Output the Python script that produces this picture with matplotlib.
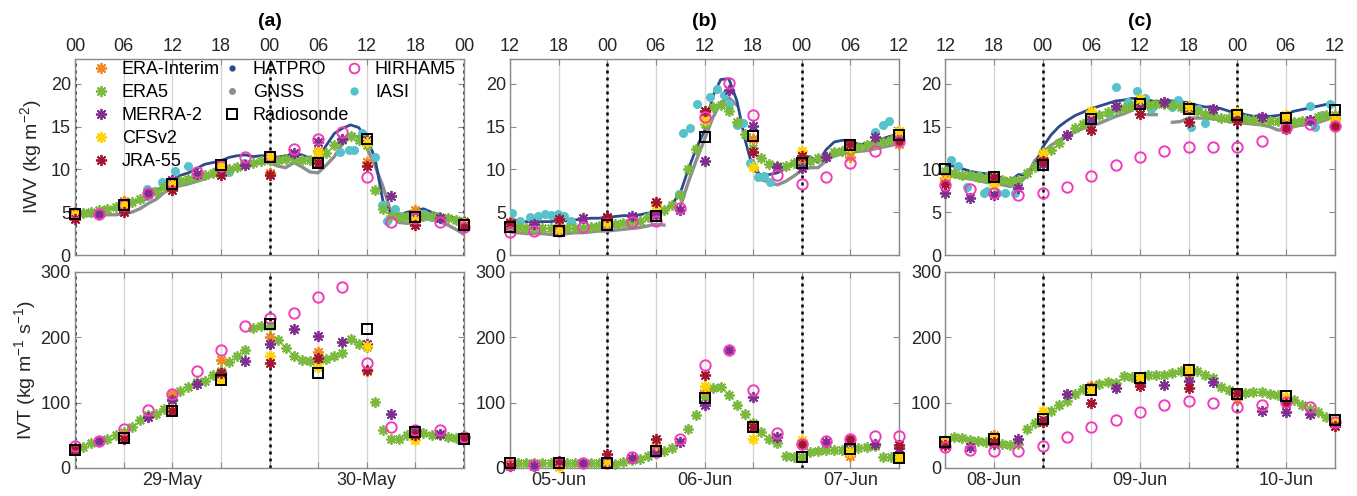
import numpy as np
import matplotlib
matplotlib.use("Agg")
import matplotlib.pyplot as plt
from matplotlib.lines import Line2D

plt.rcParams['font.family'] = ['Liberation Sans', 'DejaVu Sans']
plt.rcParams['mathtext.fontset'] = 'custom'
plt.rcParams['mathtext.rm'] = 'Liberation Sans'
plt.rcParams['mathtext.it'] = 'Liberation Sans:italic'
plt.rcParams['font.size'] = 11

# ---------------- time axes (hours from panel start) ----------------
hours_1h = list(range(0, 49))
hours_3h = list(range(0, 49, 3))
hours_6h = list(range(0, 49, 6))

top_labels_a = ['00', '06', '12', '18', '00', '06', '12', '18', '00']
top_labels_b = ['12', '18', '00', '06', '12', '18', '00', '06', '12']
top_labels_c = ['12', '18', '00', '06', '12', '18', '00', '06', '12']
date_ticks_a = [12, 36]
date_labels_a = ['29-May', '30-May']
date_ticks_b = [6, 24, 42]
date_labels_b = ['05-Jun', '06-Jun', '07-Jun']
date_ticks_c = [6, 24, 42]
date_labels_c = ['08-Jun', '09-Jun', '10-Jun']
midnight_a = [0, 24, 48]
midnight_b = [12, 36]
midnight_c = [12, 36]
panel_titles = ['(a)', '(b)', '(c)']

# ---------------- IWV (kg m-2) ----------------
# panel a
era5_iwv_a = [4.8, 4.9, 5.0, 5.2, 5.4, 5.6, 5.9, 6.2, 6.6, 7.0, 7.4, 7.9, 8.3, 8.6, 8.9, 9.1, 9.3,
              9.6, 9.9, 10.1, 10.3, 10.6, 10.8, 11.0, 11.1, 11.1, 11.2, 11.2, 11.1, 11.1, 11.3, 11.9,
              12.9, 13.4, 13.9, 13.4, 12.8, 7.6, 5.4, 4.6, 4.4, 4.4, 4.5, 4.5, 4.5, 4.4, 4.3, 4.1, 4.0]
erai_iwv_a = [5.0, 6.3, 8.6, 10.6, 9.6, 12.2, 10.9, 5.2, 3.9]
cfsv2_iwv_a = [4.8, 5.8, 8.3, 10.4, 11.5, 12.0, 13.2, 4.1, 3.7]
jra55_iwv_a = [4.2, 5.0, 7.6, 9.4, 9.4, 10.7, 10.4, 3.5, 3.3]
merra2_iwv_a = [4.9, 4.8, 5.9, 7.2, 8.8, 9.5, 10.5, 10.5, 11.4, 11.9, 13.2, 13.6, 13.4, 6.9, 4.6, 4.3, 3.8]
hirham_iwv_a = [4.9, 4.8, 5.9, 7.3, 8.4, 9.7, 10.4, 11.4, 11.6, 12.4, 13.5, 14.4, 9.1, 3.9, 4.3, 3.9, 3.3]
sonde_iwv_a = [4.8, 5.8, 8.3, 10.5, 11.5, 10.8, 13.6, 4.4, 3.5]
hatpro_iwv_a = [4.9, 5.0, 5.1, 5.2, 5.4, 5.6, 5.9, 6.3, 6.2, 6.6, 7.4, 8.2, 8.6, 9.3, 9.6, 10.1, 10.6,
                10.8, 11.0, 11.4, 11.6, 11.7, 11.5, 11.6, 11.6, 11.4, 11.6, 11.8, 11.7, 11.3, 11.2, 12.8,
                14.2, 14.8, 15.2, 14.9, 13.6, 11.4, 6.3, 4.9, 4.7, 5.0, 5.2, 5.4, 5.0, 4.7, 4.5, 4.3, 4.0]
gnss_iwv_a = [4.6, 4.6, 4.6, 4.6, 4.7, 4.7, 4.8, 5.0, 5.4, 6.0, 6.5, 7.3, 7.8, 8.1, 8.3, 8.6, 8.9,
              9.3, 9.7, 10.0, 10.1, 10.3, 10.6, 10.9, 10.8, 10.4, 10.2, 10.8, 10.3, 9.7, 9.6, 10.5,
              11.5, 13.0, 14.0, 13.8, 12.5, 10.5, 8.0, 5.0, 3.8, 3.7, 3.8, 4.2, 4.2, 3.9, 3.5, 3.0, 2.4]
iasi_h_a = [8.9, 9.7, 10.7, 12.3, 13.9, 15.5, 17.4, 19.0, 20.8, 32.7, 33.8, 34.4, 35.4, 37.0, 37.9,
            38.5, 39.5, 40.4, 41.4, 43.1, 43.9, 44.7]
iasi_iwv_a = [7.7, 7.5, 8.5, 9.8, 10.4, 9.4, 9.8, 9.7, 10.7, 12.0, 12.3, 12.3, 14.2, 11.4, 5.8,
              4.0, 5.4, 4.6, 4.6, 4.8, 4.4, 4.5]

# panel b
era5_iwv_b = [3.3, 3.3, 3.2, 3.2, 3.1, 3.1, 3.0, 3.1, 3.1, 3.2, 3.3, 3.4, 3.5, 3.6, 3.7, 3.8, 4.0,
              4.4, 4.7, 5.3, 5.8, 7.0, 10.0, 12.4, 15.3, 17.3, 17.5, 16.8, 15.5, 14.1, 12.5, 11.3,
              10.6, 10.4, 10.4, 10.7, 11.0, 11.0, 11.3, 11.5, 12.0, 12.2, 12.4, 12.6, 12.8, 13.0,
              13.2, 13.4, 13.6]
erai_iwv_b = [3.9, 3.5, 4.2, 5.8, 16.2, 13.5, 11.3, 11.5, 13.0]
cfsv2_iwv_b = [3.6, 3.0, 3.8, 5.8, 15.8, 10.3, 12.2, 12.6, 14.5]
jra55_iwv_b = [3.7, 4.2, 4.4, 6.2, 16.8, 12.0, 11.6, 13.0, 13.3]
merra2_iwv_b = [3.5, 3.6, 3.0, 4.3, 4.3, 4.5, 4.7, 5.2, 11.0, 19.3, 15.1, 10.3, 10.2, 11.5, 12.8, 13.8, 13.8]
hirham_iwv_b = [2.7, 2.8, 2.8, 3.3, 3.6, 3.8, 4.0, 5.5, 16.1, 20.1, 16.4, 9.3, 8.3, 9.1, 10.7, 12.1, 13.3]
sonde_iwv_b = [3.3, 2.8, 3.5, 4.6, 13.8, 13.9, 10.7, 12.9, 14.0]
hatpro_iwv_b = [4.2, 4.0, 3.9, 3.9, 3.9, 3.9, 4.0, 4.0, 4.1, 4.2, 4.3, 4.3, 4.4, 4.5, 4.6, 4.6, 4.7,
                4.9, 5.0, 5.2, 6.0, 7.2, 10.0, 12.5, 14.5, 18.5, 20.5, 20.6, 18.0, 13.5, 10.0, 9.3,
                9.4, 9.6, 10.1, 10.9, 11.3, 11.5, 10.8, 12.3, 13.2, 13.4, 13.4, 12.9, 13.0, 13.2,
                13.6, 13.9, 14.1]
gnss_iwv_b = [2.7, 2.6, 2.5, 2.5, 2.5, 2.4, 2.4, 2.5, 2.6, 2.6, 2.7, 2.8, 2.8, 2.9, 3.0, 3.1, 3.2,
              3.4, 3.6, 3.5, np.nan, 5.6, 8.5, 11.1, 13.5, 16.0, 17.8, 18.4, 17.5, np.nan, 11.0, 8.8,
              8.5, 8.2, 8.6, 9.2, 9.9, 10.2, 10.2, 11.0, 11.6, 11.8, 12.0, 12.1, 12.2, 12.4, 12.6,
              12.8, 13.0]
iasi_h_b = [0.2, 1.2, 2.5, 3.5, 4.3, 5.1, 5.9, 6.7, 7.5, 20.8, 21.4, 22.2, 23.1, 24.7, 25.6, 26.4,
            27.0, 28.0, 28.8, 29.6, 30.6, 31.3, 32.1, 45.0, 46.0, 46.8]
iasi_iwv_b = [4.9, 4.0, 4.4, 4.5, 4.8, 4.7, 4.8, 4.6, 4.0, 7.1, 14.2, 14.8, 17.7, 18.5, 19.4, 18.7,
              17.6, 15.2, 15.4, 10.8, 9.1, 9.2, 8.5, 14.4, 15.2, 15.6]

# panel c
era5_iwv_c = [9.8, 9.6, 9.4, 9.3, 9.1, 9.0, 8.9, 8.8, 8.6, 8.8, 9.6, 10.3, 11.2, 12.3, 13.1, 14.0,
              14.8, 15.3, 15.8, 16.3, 16.7, 17.0, 17.2, 17.4, 17.5, 17.5, 17.6, 17.6, 17.5, 17.3,
              17.1, 16.8, 16.5, 16.3, 16.0, 16.0, 16.0, 15.9, 15.8, 15.7, 15.6, 15.6, 15.5, 15.5,
              15.6, 15.8, 16.1, 16.3, 16.4]
erai_iwv_c = [9.0, 8.9, 11.3, 16.3, 17.9, 17.1, 16.1, 15.7, 16.0]
cfsv2_iwv_c = [8.6, 8.2, 11.9, 16.8, 18.2, 17.4, 16.7, 16.3, 15.8]
jra55_iwv_c = [8.3, 9.1, 11.0, 14.6, 16.5, 15.5, 15.7, 14.7, 15.1]
merra2_iwv_c = [7.2, 6.7, 7.0, 7.8, 10.6, 14.0, 15.9, 17.4, 17.6, 17.9, 17.3, 17.0, 16.3, 16.1, 15.1, 15.8, 15.2]
hirham_iwv_c = [8.2, 7.7, 7.3, 7.0, 7.3, 8.0, 9.2, 10.5, 11.4, 12.1, 12.6, 12.6, 12.6, 13.3, 14.8, 15.3, 15.1]
sonde_iwv_c = [10.0, 9.1, 10.5, 15.9, 17.7, 17.1, 16.4, 16.0, 16.9]
hatpro_iwv_c = [10.4, 10.4, 10.1, 9.8, 9.6, 9.5, 9.3, 9.0, 8.7, 9.4, 9.3, 10.4, 12.6, 14.0, 15.0,
                15.7, 16.3, 16.7, 17.1, 17.4, 17.7, 18.0, 18.1, 18.3, 18.3, 18.1, 17.9, 18.1, 18.0,
                17.9, 17.8, 17.5, 17.3, 17.3, 17.1, 16.8, 16.7, 16.4, 16.2, 16.3, 16.2, 16.3, 16.5,
                16.8, 17.0, 17.2, 17.4, 17.6, 17.5]
gnss_iwv_c = [9.6, 9.2, 9.0, 8.9, 8.7, 8.5, 8.4, 8.2, 8.0, 8.3, 9.2, 11.0, 12.0, 12.8, 13.4, 13.9,
              14.4, 14.8, 15.1, 15.4, 15.8, 16.2, 16.5, 16.9, np.nan, 16.4, 16.4, np.nan, 15.5, 15.6,
              16.0, 16.0, 16.0, 15.9, 15.8, 15.6, 15.5, 15.4, 15.3, 15.2, 15.0, 14.6, 14.6, 15.0,
              15.2, 15.3, 15.5, 15.8, 16.2]
iasi_h_c = [0.7, 1.5, 2.7, 3.1, 4.1, 4.8, 5.1, 6.4, 7.4, 8.6, 20.2, 21.1, 22.5, 23.6, 24.6, 25.4,
            27.9, 28.7, 30.3, 31.2, 32.0, 45.0, 45.6, 46.4, 47.4]
iasi_iwv_c = [11.1, 10.4, 7.9, 9.2, 9.2, 7.3, 7.5, 7.3, 7.3, 7.2, 16.5, 19.6, 17.9, 19.2, 18.4, 17.0,
              17.3, 18.1, 15.0, 17.0, 15.4, 17.4, 14.9, 16.3, 17.6]

# ---------------- IVT (kg m-1 s-1) ----------------
era5_ivt_a = [28, 32, 38, 42, 44, 50, 55, 62, 73, 81, 82, 91, 105, 118, 124, 132, 133, 142, 149, 162,
              172, 180, 215, 218, 217, 196, 183, 171, 166, 164, 164, 167, 171, 176, 198, 190, 185,
              101, 58, 45, 45, 50, 54, 53, 51, 50, 47, 46, 46]
erai_ivt_a = [30, 50, 113, 165, 200, 178, 148, 58, 48]
cfsv2_ivt_a = [28, 47, 90, 134, 171, 155, 186, 43, 45]
jra55_ivt_a = [27, 44, 88, 146, 160, 168, 150, 50, 45]
merra2_ivt_a = [30, 41, 47, 78, 104, 128, 145, 164, 190, 213, 202, 193, 190, 82, 55, 52, 48]
hirham_ivt_a = [34, 41, 60, 89, 113, 149, 181, 217, 229, 237, 262, 277, 160, 62, 58, 58, 48]
sonde_ivt_a = [28, 46, 88, 134, 220, 146, 213, 55, 45]

era5_ivt_b = [8, 7, 7, 7, 7, 7, 7, 7, 7, 7, 7, 7, 7, 6, 9, 12, 14, 19, 23, 26, 30, 40, 60, 81, 109,
              123, 124, 111, 97, 82, 69, 55, 45, 38, 19, 17, 17, 24, 26, 27, 27, 28, 28, 30, 32, 33,
              17, 17, 16]
erai_ivt_b = [7, 5, 9, 30, 120, 62, 36, 18, 30]
cfsv2_ivt_b = [8, 2, 10, 35, 125, 45, 43, 24, 17]
jra55_ivt_b = [3, 10, 22, 45, 142, 62, 37, 44, 35]
merra2_ivt_b = [6, 3, 8, 7, 8, 16, 25, 40, 97, 180, 108, 48, 37, 40, 40, 37, 30]
hirham_ivt_b = [5, 5, 8, 7, 7, 17, 24, 44, 158, 181, 120, 54, 36, 42, 45, 49, 49]
sonde_ivt_b = [8, 7, 8, 26, 107, 62, 17, 29, 16]

era5_ivt_c = [43, 47, 46, 43, 42, 40, 38, 36, 35, 36, 60, 69, 75, 87, 97, 103, 113, 121, 124, 129,
              132, 130, 141, 140, 139, 142, 142, 143, 145, 148, 150, 148, 142, 137, 124, 119, 115,
              115, 116, 116, 114, 111, 109, 104, 96, 91, 86, 78, 73]
erai_ivt_c = [42, 50, 70, 126, 130, 142, 105, 105, 70]
cfsv2_ivt_c = [40, 46, 88, 120, 138, 150, 113, 108, 72]
jra55_ivt_c = [35, 40, 70, 100, 125, 122, 115, 100, 64]
merra2_ivt_c = [38, 32, 37, 44, 75, 114, 122, 122, 130, 127, 133, 131, 113, 88, 86, 82, 72]
hirham_ivt_c = [32, 27, 26, 26, 33, 47, 62, 74, 86, 96, 102, 99, 93, 96, 101, 93, 70]
sonde_ivt_c = [40, 44, 75, 120, 138, 150, 113, 110, 73]

# ---------------- styles ----------------
c_erai = '#F0891E'
c_era5 = '#7AB93C'
c_merra = '#7E2F8E'
c_cfs = '#FFD400'
c_jra = '#A2142F'
c_hat = '#2E4A8E'
c_gnss = '#8E8E8E'
c_hir = '#F23DBA'
c_iasi = '#57C2CC'
AST = (8, 2, 0)
AST_MS = 8
AST_MEW = 1.3

W, H = 1357, 496
fig = plt.figure(figsize=(W / 100, H / 100), dpi=100)

lefts = [75, 510, 945.5]
axw = 389
top_row = (59, 255)
bot_row = (272, 468)
TICK_FS = 13


def mk_axes(left, row):
    y0, y1 = row
    return fig.add_axes([left / W, 1 - y1 / H, axw / W, (y1 - y0) / H])


def style(ax, midnights):
    ax.set_xlim(0, 48)
    ax.set_xticks(hours_6h)
    ax.grid(axis='x', color='#d4d4d4', lw=1.0, zorder=0)
    ax.set_axisbelow(True)
    for m in midnights:
        ax.axvline(m, color='black', ls=(0, (1.2, 1.6)), lw=1.8, zorder=1)
    for s in ax.spines.values():
        s.set_color('#8a8a8a')
        s.set_linewidth(1.0)
    ax.tick_params(which='both', direction='in', length=4, color='#8a8a8a',
                   labelcolor='#262626', labelsize=TICK_FS, right=True, top=True, pad=3)


def plot_sets(ax, x1, x3, x6, era5, erai, merra, cfs, jra, hir, sonde):
    kw = dict(ls='none', clip_on=False)
    ax.plot(x1, era5, marker=AST, ms=AST_MS - 0.5, mew=AST_MEW, color=c_era5, zorder=4, **kw)
    ax.plot(x6, erai, marker=AST, ms=AST_MS, mew=AST_MEW, color=c_erai, zorder=5, **kw)
    ax.plot(x3, merra, marker=AST, ms=AST_MS, mew=AST_MEW, color=c_merra, zorder=5, **kw)
    ax.plot(x6, cfs, marker=AST, ms=AST_MS, mew=AST_MEW, color=c_cfs, zorder=5, **kw)
    ax.plot(x6, jra, marker=AST, ms=AST_MS, mew=AST_MEW, color=c_jra, zorder=5, **kw)
    ax.plot(x3, hir, marker='o', ms=7.5, mew=1.4, mfc='none', mec=c_hir, zorder=6, **kw)
    ax.plot(x6, sonde, marker='s', ms=7, mew=1.4, mfc='none', mec='black', zorder=7, **kw)


panels = [
    dict(top=top_labels_a, dt=date_ticks_a, dl=date_labels_a, mid=midnight_a,
         era5=era5_iwv_a, erai=erai_iwv_a, merra=merra2_iwv_a, cfs=cfsv2_iwv_a, jra=jra55_iwv_a,
         hir=hirham_iwv_a, sonde=sonde_iwv_a, hat=hatpro_iwv_a, gnss=gnss_iwv_a,
         ih=iasi_h_a, iv=iasi_iwv_a,
         era5v=era5_ivt_a, eraiv=erai_ivt_a, merrav=merra2_ivt_a, cfsv=cfsv2_ivt_a,
         jrav=jra55_ivt_a, hirv=hirham_ivt_a, sondev=sonde_ivt_a),
    dict(top=top_labels_b, dt=date_ticks_b, dl=date_labels_b, mid=midnight_b,
         era5=era5_iwv_b, erai=erai_iwv_b, merra=merra2_iwv_b, cfs=cfsv2_iwv_b, jra=jra55_iwv_b,
         hir=hirham_iwv_b, sonde=sonde_iwv_b, hat=hatpro_iwv_b, gnss=gnss_iwv_b,
         ih=iasi_h_b, iv=iasi_iwv_b,
         era5v=era5_ivt_b, eraiv=erai_ivt_b, merrav=merra2_ivt_b, cfsv=cfsv2_ivt_b,
         jrav=jra55_ivt_b, hirv=hirham_ivt_b, sondev=sonde_ivt_b),
    dict(top=top_labels_c, dt=date_ticks_c, dl=date_labels_c, mid=midnight_c,
         era5=era5_iwv_c, erai=erai_iwv_c, merra=merra2_iwv_c, cfs=cfsv2_iwv_c, jra=jra55_iwv_c,
         hir=hirham_iwv_c, sonde=sonde_iwv_c, hat=hatpro_iwv_c, gnss=gnss_iwv_c,
         ih=iasi_h_c, iv=iasi_iwv_c,
         era5v=era5_ivt_c, eraiv=erai_ivt_c, merrav=merra2_ivt_c, cfsv=cfsv2_ivt_c,
         jrav=jra55_ivt_c, hirv=hirham_ivt_c, sondev=sonde_ivt_c),
]

for i, p in enumerate(panels):
    # ---- IWV ----
    ax = mk_axes(lefts[i], top_row)
    style(ax, p['mid'])
    ax.set_ylim(0, 22.9)
    ax.set_yticks([0, 5, 10, 15, 20])
    ax.tick_params(axis='x', labeltop=True, labelbottom=False)
    ax.set_xticklabels(p['top'])
    ax.plot(hours_1h, p['gnss'], color=c_gnss, lw=2.4, zorder=2)
    ax.plot(hours_1h, p['hat'], color=c_hat, lw=2.0, zorder=3)
    ax.plot(p['ih'], p['iv'], ls='none', marker='o', ms=5.5, mfc=c_iasi, mec=c_iasi, zorder=3.5)
    plot_sets(ax, hours_1h, hours_3h, hours_6h, p['era5'], p['erai'], p['merra'], p['cfs'],
              p['jra'], p['hir'], p['sonde'])
    if i == 0:
        ax.set_ylabel('IWV (kg m$^{-2}$)', fontsize=14, color='#262626', labelpad=5)
    fig.text((lefts[i] + axw / 2) / W, 1 - 21 / H, panel_titles[i], ha='center', va='center',
             fontsize=14, fontweight='bold')

    # ---- IVT ----
    ax2 = mk_axes(lefts[i], bot_row)
    style(ax2, p['mid'])
    ax2.set_ylim(0, 300)
    ax2.set_yticks([0, 100, 200, 300])
    labs = [''] * len(hours_6h)
    for t, l in zip(p['dt'], p['dl']):
        labs[hours_6h.index(t)] = l
    ax2.set_xticklabels(labs)
    plot_sets(ax2, hours_1h, hours_3h, hours_6h, p['era5v'], p['eraiv'], p['merrav'], p['cfsv'],
              p['jrav'], p['hirv'], p['sondev'])
    if i == 0:
        ax2.set_ylabel('IVT (kg m$^{-1}$ s$^{-1}$)', fontsize=14, color='#262626', labelpad=2)

# ---------------- legend ----------------
def h_ast(c):
    return Line2D([], [], ls='none', marker=AST, ms=AST_MS, mew=AST_MEW, color=c)

leg_cols = [
    ([h_ast(c_erai), h_ast(c_era5), h_ast(c_merra), h_ast(c_cfs), h_ast(c_jra)],
     ['ERA-Interim', 'ERA5', 'MERRA-2', 'CFSv2', 'JRA-55'], 94),
    ([Line2D([], [], ls='none', marker='o', ms=3.5, color=c_hat),
      Line2D([], [], ls='none', marker='o', ms=4, color=c_gnss),
      Line2D([], [], ls='none', marker='s', ms=6.5, mew=1.4, mfc='none', mec='black')],
     ['HATPRO', 'GNSS', 'Radiosonde'], 225),
    ([Line2D([], [], ls='none', marker='o', ms=7, mew=1.4, mfc='none', mec=c_hir),
      Line2D([], [], ls='none', marker='o', ms=5, color=c_iasi)],
     ['HIRHAM5', 'IASI'], 347),
]
for hs, ls_, x in leg_cols:
    fig.legend(hs, ls_, loc='upper left', bbox_to_anchor=(x / W, 1 - 61 / H), frameon=False,
               fontsize=13, handlelength=0.8, handletextpad=0.75, labelspacing=0.33,
               borderpad=0, borderaxespad=0)

fig.savefig('out.png', dpi=100)
